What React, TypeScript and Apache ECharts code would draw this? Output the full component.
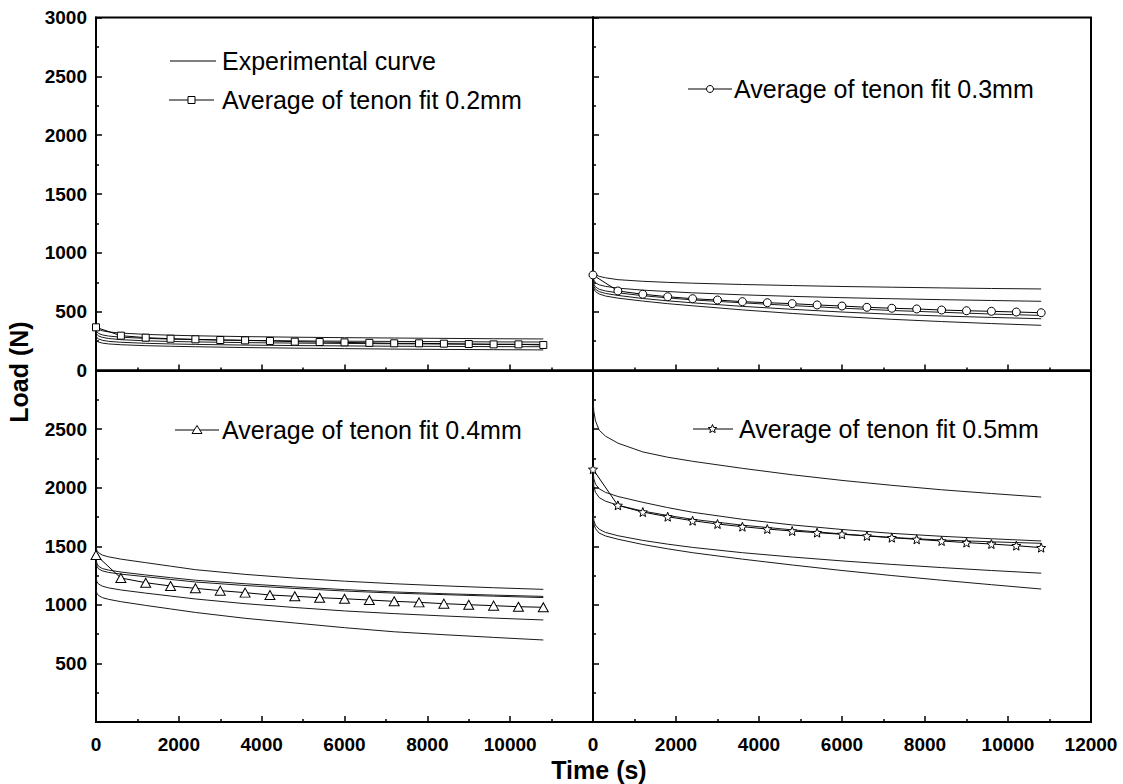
import React, { useEffect, useRef } from 'react';
import * as echarts from 'echarts';

// Sample times (s) for the experimental curves
const TIME = [0, 20, 60, 150, 300, 600, 1200, 1800, 2400, 3600, 4800, 6000, 7200, 8400, 9600, 10800];
// Marker times (s) for the average curves
const MARKER_TIME = [0, 600, 1200, 1800, 2400, 3000, 3600, 4200, 4800, 5400, 6000, 6600, 7200, 7800, 8400, 9000, 9600, 10200, 10800];

// Tenon fit 0.2 mm
const EXP_02 = [
  [390, 365, 350, 338, 328, 318, 307, 300, 295, 288, 283, 279, 276, 273, 270, 268],
  [352, 330, 315, 303, 293, 283, 273, 267, 262, 256, 252, 249, 247, 245, 243, 242],
  [330, 308, 294, 282, 272, 262, 252, 247, 243, 237, 233, 230, 227, 225, 223, 222],
  [300, 280, 268, 257, 248, 240, 231, 226, 222, 216, 212, 209, 206, 205, 203, 202],
  [270, 252, 242, 233, 226, 219, 211, 206, 202, 195, 190, 186, 182, 179, 177, 175],
];
const AVG_02 = [367, 296, 279, 270, 265, 259, 256, 251, 245, 242, 239, 235, 231, 231, 228, 225, 222, 222, 217];

// Tenon fit 0.3 mm
const EXP_03 = [
  [865, 835, 815, 800, 788, 772, 758, 749, 742, 731, 722, 714, 708, 702, 697, 693],
  [810, 770, 745, 728, 715, 700, 683, 671, 660, 643, 630, 619, 610, 602, 595, 588],
  [780, 735, 710, 690, 676, 660, 636, 617, 600, 575, 552, 530, 510, 495, 480, 468],
  [750, 715, 690, 670, 655, 638, 612, 592, 575, 545, 520, 497, 478, 463, 451, 440],
  [725, 695, 670, 650, 633, 615, 590, 568, 550, 515, 485, 458, 435, 416, 399, 384],
];
const AVG_03 = [812, 676, 648, 627, 610, 599, 585, 576, 568, 557, 548, 537, 529, 523, 514, 508, 503, 497, 491];

// Tenon fit 0.4 mm
const EXP_04 = [
  [1500, 1465, 1445, 1425, 1410, 1390, 1360, 1330, 1300, 1260, 1228, 1202, 1180, 1162, 1146, 1132],
  [1400, 1355, 1330, 1310, 1297, 1280, 1255, 1232, 1210, 1180, 1153, 1130, 1110, 1095, 1083, 1072],
  [1370, 1330, 1308, 1290, 1277, 1262, 1240, 1217, 1195, 1165, 1140, 1118, 1100, 1087, 1074, 1062],
  [1240, 1200, 1178, 1160, 1145, 1127, 1100, 1075, 1050, 1010, 977, 948, 925, 905, 887, 871],
  [1130, 1100, 1080, 1062, 1047, 1027, 995, 965, 935, 885, 845, 805, 770, 745, 722, 700],
];
const AVG_04 = [1425, 1229, 1189, 1161, 1141, 1121, 1104, 1084, 1073, 1061, 1052, 1041, 1030, 1021, 1010, 1001, 993, 984, 979];

// Tenon fit 0.5 mm
const EXP_05 = [
  [2760, 2650, 2570, 2490, 2440, 2380, 2305, 2260, 2225, 2165, 2110, 2062, 2020, 1982, 1950, 1920],
  [2150, 2075, 2030, 1990, 1960, 1925, 1875, 1830, 1790, 1730, 1682, 1643, 1610, 1585, 1564, 1545],
  [2100, 2010, 1960, 1915, 1885, 1850, 1800, 1763, 1730, 1680, 1640, 1605, 1575, 1553, 1538, 1525],
  [1780, 1720, 1680, 1645, 1618, 1590, 1550, 1518, 1490, 1445, 1408, 1375, 1345, 1318, 1293, 1270],
  [1750, 1690, 1650, 1612, 1588, 1560, 1515, 1478, 1445, 1390, 1340, 1293, 1250, 1210, 1172, 1135],
];
const AVG_05 = [2157, 1849, 1792, 1752, 1718, 1690, 1667, 1647, 1630, 1616, 1602, 1588, 1573, 1559, 1545, 1531, 1519, 1505, 1488];

const LEGEND_EXP = 'Experimental curve';
const LEGEND_AVG = [
  'Average of tenon fit 0.2mm',
  'Average of tenon fit 0.3mm',
  'Average of tenon fit 0.4mm',
  'Average of tenon fit 0.5mm',
];
const X_TITLE = 'Time (s)';
const Y_TITLE = 'Load (N)';

const STAR_PATH = 'path://M12,1 L14.9,8.6 L23,9.3 L16.8,14.6 L18.8,22.5 L12,18.2 L5.2,22.5 L7.2,14.6 L1,9.3 L9.1,8.6 Z';

const pairs = (xs: number[], ys: number[]) => xs.map((x, i) => [x, ys[i]]);

function starPoints(cx: number, cy: number, R: number, r: number) {
  const pts: number[][] = [];
  for (let i = 0; i < 10; i++) {
    const a = -Math.PI / 2 + (i * Math.PI) / 5;
    const rad = i % 2 === 0 ? R : r;
    pts.push([cx + rad * Math.cos(a), cy + rad * Math.sin(a)]);
  }
  return pts;
}

export default function App() {
  const ref = useRef<HTMLDivElement>(null);

  useEffect(() => {
    if (!ref.current) return;
    const chart = echarts.init(ref.current, undefined, { renderer: 'svg' });

    const tickFont = { fontFamily: '"Liberation Sans", Arial, sans-serif', fontWeight: 'bold' as const, fontSize: 19, color: '#000' };

    const grids = [
      { left: 96, top: 17.5, width: 497, height: 353 },
      { left: 593, top: 17.5, width: 498, height: 353 },
      { left: 96, top: 370.5, width: 497, height: 351.5 },
      { left: 593, top: 370.5, width: 498, height: 351.5 },
    ].map((g) => ({ ...g, show: true, borderColor: '#000', borderWidth: 2, backgroundColor: 'transparent' }));

    const xAxis = [0, 1, 2, 3].map((i) => ({
      type: 'value',
      gridIndex: i,
      min: 0,
      max: 12000,
      interval: 2000,
      axisLine: { show: true, onZero: false, lineStyle: { color: '#000', width: 2 } },
      axisTick: { show: true, inside: true, length: 6, lineStyle: { color: '#000', width: 1.5 } },
      minorTick: { show: true, splitNumber: 2, length: 3, lineStyle: { color: '#000', width: 1.5 } },
      splitLine: { show: false },
      minorSplitLine: { show: false },
      axisLabel: {
        show: i >= 2,
        margin: 13,
        ...tickFont,
        formatter: (v: number) => (i === 2 && v === 12000 ? '' : String(v)),
      },
    }));

    const yAxis = [0, 1, 2, 3].map((i) => ({
      type: 'value',
      gridIndex: i,
      min: 0,
      max: 3000,
      interval: 500,
      axisLine: { show: true, onZero: false, lineStyle: { color: '#000', width: 2 } },
      axisTick: { show: true, inside: true, length: 6, lineStyle: { color: '#000', width: 1.5 } },
      minorTick: { show: true, splitNumber: 2, length: 3, lineStyle: { color: '#000', width: 1.5 } },
      splitLine: { show: false },
      minorSplitLine: { show: false },
      axisLabel: {
        show: i === 0 || i === 2,
        margin: 9,
        ...tickFont,
        formatter: (v: number) => (i === 2 && (v === 0 || v === 3000) ? '' : String(v)),
      },
    }));

    const panels = [
      { exp: EXP_02, avg: AVG_02, symbol: 'rect', size: 7 as any },
      { exp: EXP_03, avg: AVG_03, symbol: 'circle', size: 8 as any },
      { exp: EXP_04, avg: AVG_04, symbol: 'triangle', size: [10, 9] as any },
      { exp: EXP_05, avg: AVG_05, symbol: STAR_PATH, size: 9 as any },
    ];

    const series: any[] = [];
    panels.forEach((p, i) => {
      p.exp.forEach((curve, k) => {
        series.push({
          type: 'line',
          name: `exp-${i}-${k}`,
          xAxisIndex: i,
          yAxisIndex: i,
          data: pairs(TIME, curve),
          symbol: 'none',
          smooth: false,
          lineStyle: { color: '#1a1a1a', width: 1 },
          silent: true,
        });
      });
      series.push({
        type: 'line',
        name: LEGEND_AVG[i],
        xAxisIndex: i,
        yAxisIndex: i,
        data: pairs(MARKER_TIME, p.avg),
        symbol: p.symbol,
        symbolSize: p.size,
        showSymbol: true,
        showAllSymbol: true,
        lineStyle: { color: '#000', width: 1 },
        itemStyle: { color: '#fff', borderColor: '#000', borderWidth: 1 },
        z: 5,
        silent: true,
      });
    });

    const legendFont = '25px "Liberation Sans", Arial, sans-serif';
    const titleFont = 'bold 25px "Liberation Sans", Arial, sans-serif';
    const ln = (x1: number, x2: number, y: number) => ({
      type: 'line',
      shape: { x1, y1: y, x2, y2: y },
      style: { stroke: '#000', lineWidth: 1 },
    });
    const txt = (x: number, y: number, text: string, font = legendFont) => ({
      type: 'text',
      x,
      y,
      style: { text, font, fill: '#000', textAlign: 'left', textVerticalAlign: 'middle' },
    });

    const graphic: any[] = [
      // top-left legend
      ln(170, 216, 61),
      txt(222, 61, LEGEND_EXP),
      ln(169, 214, 100),
      { type: 'rect', shape: { x: 188, y: 96.5, width: 7, height: 7 }, style: { fill: '#fff', stroke: '#000', lineWidth: 1 } },
      txt(222, 100, LEGEND_AVG[0]),
      // top-right legend
      ln(688, 732, 89),
      { type: 'circle', shape: { cx: 710, cy: 89, r: 3.5 }, style: { fill: '#fff', stroke: '#000', lineWidth: 1 } },
      txt(734, 89, LEGEND_AVG[1]),
      // bottom-left legend
      ln(175, 219, 430),
      { type: 'polygon', shape: { points: [[197, 425.5], [202, 433.5], [192, 433.5]] }, style: { fill: '#fff', stroke: '#000', lineWidth: 1 } },
      txt(222, 430, LEGEND_AVG[2]),
      // bottom-right legend
      ln(693, 733, 429),
      { type: 'polygon', shape: { points: starPoints(712.5, 429, 4.5, 2) }, style: { fill: '#fff', stroke: '#000', lineWidth: 1 } },
      txt(739, 429, LEGEND_AVG[3]),
      // axis titles
      {
        type: 'text',
        x: 599,
        y: 770,
        style: { text: X_TITLE, font: titleFont, fill: '#000', textAlign: 'center', textVerticalAlign: 'middle' },
      },
      {
        type: 'text',
        x: 19,
        y: 372,
        rotation: Math.PI / 2,
        style: { text: Y_TITLE, font: titleFont, fill: '#000', textAlign: 'center', textVerticalAlign: 'middle' },
      },
    ];

    chart.setOption({
      animation: false,
      backgroundColor: '#fff',
      grid: grids,
      xAxis,
      yAxis,
      series,
      graphic,
    });

    return () => chart.dispose();
  }, []);

  return (
    <div
      ref={ref}
      style={{ position: 'fixed', left: 0, top: 0, width: 1123, height: 784, background: '#fff' }}
    />
  );
}
